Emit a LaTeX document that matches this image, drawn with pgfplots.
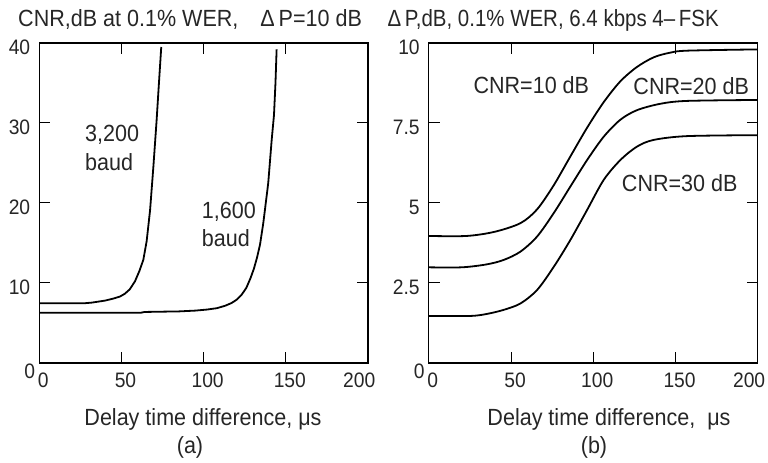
\documentclass[border=0pt]{standalone}
\usepackage{fontspec}
\setmainfont{Liberation Sans}[FakeStretch=0.92]
\usepackage{pgfplots}
\pgfplotsset{compat=1.18}
\newcommand{\lbl}{\fontsize{23.5}{27}\selectfont}
\newcommand{\tck}{\fontsize{21}{25}\selectfont}
\tikzset{
  curve/.style={black, line width=1.8bp, line join=round},
  lab/.style={anchor=base west, font=\lbl, inner sep=0pt, text=black!85},
}
\pgfplotsset{
  myaxis/.style={
    scale only axis, height=320bp, ymin=0,
    xmin=0, xmax=200,
    xtick={0,50,100,150}, extra x ticks={200},
    extra x tick style={grid=none, xticklabel style={xshift=-12.7bp}},
    tick pos=both, xticklabel pos=lower, yticklabel pos=left,
    tick align=inside, major tick length=11bp,
    tick style={black, line width=1bp},
    axis line style={black, line width=1.2bp},
    /pgf/number format/assume math mode=true,
    tick label style={font=\tck, text=black!85},
    xticklabel style={yshift=-6bp, xshift=4bp},
    yticklabel style={xshift=-5.6bp, yshift=-4.5bp},
    extra y tick style={grid=none, yticklabel style={xshift=5bp, yshift=-3.3bp}},
    clip=false,
  },
}
\begin{document}
\begin{tikzpicture}
\useasboundingbox (-39.3bp,-100bp) rectangle (728.7bp,363bp);
\begin{axis}[myaxis, width=328.7bp, at={(0bp,0bp)}, anchor=south west,
  ymax=40, ytick={10,20,30,40}, extra y ticks={0}]
\addplot[curve] coordinates {(0,7.46) (27,7.46) (32,7.55) (40,7.8) (45,8.05) (49,8.3) (52,8.65) (55,9.2) (58.2,10.2) (60.9,11.5) (63.3,12.9) (65.3,15.2) (67.4,19.1) (69.4,24.5) (71.4,30.4) (72.8,35) (74.2,39.5)};
\addplot[curve] coordinates {(0,6.29) (62,6.29) (64,6.38) (85,6.45) (95,6.55) (102,6.68) (108,6.85) (113,7.15) (117,7.5) (120,7.9) (123,8.5) (126,9.4) (128.5,10.6) (130.6,11.8) (132.5,13.2) (134.3,14.8) (136.3,17.5) (139.3,22.5) (141.4,27.9) (142.8,31) (143.7,35) (144.4,39.2)};
\node[lab] at (axis cs:27.8,27.66) {3,200};
\node[lab] at (axis cs:27.8,24.1) {baud};
\node[lab] at (axis cs:98.8,18.1) {1,600};
\node[lab] at (axis cs:98.8,14.54) {baud};
\end{axis}
\begin{axis}[myaxis, width=329bp, at={(389.5bp,0bp)}, anchor=south west,
  ymax=10, ytick={2.5,5,7.5,10}, extra y ticks={0},
  yticklabels={2.5,5,7.5,10}]
\addplot[curve, smooth, tension=0.5] coordinates {(0,3.97) (23,3.97) (40,4.1) (55.7,4.37) (65.8,4.8) (75.9,5.55) (86,6.45) (96.2,7.35) (106.3,8.15) (116.4,8.8) (126.5,9.25) (136.6,9.55) (146,9.69) (156.9,9.76) (200,9.8)};
\addplot[curve, smooth, tension=0.5] coordinates {(0,2.99) (20,2.99) (35,3.08) (45.5,3.22) (55.7,3.48) (65.8,3.95) (75.9,4.68) (86,5.51) (96.2,6.34) (106.3,7.07) (116.4,7.6) (126.5,7.9) (140.7,8.1) (156.9,8.19) (200,8.22)};
\addplot[curve, smooth, tension=0.5] coordinates {(0,1.47) (25,1.47) (35,1.53) (45.5,1.66) (55.7,1.86) (65.8,2.28) (75.9,3.0) (86,3.84) (96.2,4.78) (106.3,5.72) (116.4,6.34) (126.5,6.76) (136.6,6.97) (156.9,7.09) (200,7.12)};
\node[lab] at (axis cs:27.1,8.43) {CNR=10 dB};
\node[lab] at (axis cs:124.3,8.375) {CNR=20 dB};
\node[lab] at (axis cs:117.3,5.35) {CNR=30 dB};
\end{axis}
\node[lab] at (-21.3bp,336.3bp) {CNR,dB at 0.1\% WER,\hspace{22bp}Δ\,P=10 dB};
\node[lab] at (348bp,336.3bp) {\scalebox{0.95}[1]{Δ\,P,dB, 0.1\% WER, 6.4 kbps 4--\,FSK}};
\node[lab, anchor=base] at (163.7bp,-62bp) {Delay time difference, μs};
\node[lab, anchor=base] at (150.7bp,-90.3bp) {(a)};
\node[lab, anchor=base] at (569.7bp,-62bp) {Delay time difference,\ \ μs};
\node[lab, anchor=base] at (554.7bp,-90.3bp) {(b)};
\end{tikzpicture}
\end{document}
